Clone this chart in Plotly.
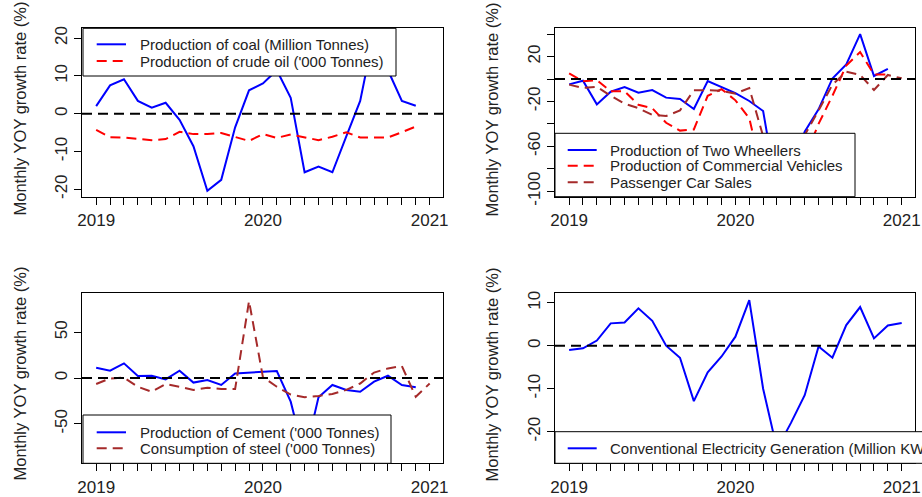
import plotly.graph_objects as go
import pandas as pd

# ---------------- data ----------------
months = pd.date_range("2019-01-01", periods=25, freq="MS")
t = [d.year + (d.month - 1) / 12 for d in months]
x_tick_labels = [str(d.year) if d.month == 1 else "" for d in months]

coal = [2.0, 7.5, 9.1, 3.4, 1.6, 2.9, -1.6, -8.6, -20.4, -17.5, -3.6, 6.2,
        8.0, 11.5, 4.2, -15.5, -14.0, -15.5, -6.0, 3.4, 21.5, 11.5, 3.4, 2.1]
crude_oil = [-4.3, -6.2, -6.3, -6.7, -7.0, -6.7, -4.8, -5.4, -5.4, -5.1, -6.1, -7.2,
             -5.4, -6.4, -5.5, -6.3, -7.0, -6.1, -4.9, -6.3, -6.3, -6.3, -4.9, -3.4]

two_wheelers = [-4.8, -1.5, -22.6, -11.3, -7.1, -12.2, -9.8, -16.6, -17.8, -26.7, -1.8, -6.8,
                -12.5, -19.6, -28.5, -100, -84, -47, -27, 0.5, 13, 40, 2.7, 9]
commercial_vehicles = [5, -2, -1, -11, -11, -23, -26, -39, -46, -45, -15, -9,
                       -19, -35, -88, -100, -95, -70, -40, -15, 12, 24, 4, 4]
passenger_cars = [-5, -8, -7, -15, -22, -26, -32, -33, -28, -10, -10, -10.5,
                  -13, -8, -51, -100, -86, -50, -28, -5, 6.5, 3.6, -9.8, 3.6, 0.6]

cement = [11.3, 8, 16, 2.2, 2.5, -1.5, 8, -5, -2.2, -7.6, 5, 5.8,
          6, 7.6, -25.8, -86, -21, -7.6, -13, -15, -4, 2.5, -7.6, -10]
steel = [-6.5, -0.5, 0.5, -9.5, -15, -6.5, -9.5, -13, -10.5, -12, -12, 84,
         1, -9.5, -18, -21, -19.5, -17.5, -13, -6, 6, 10.5, 13, -20.5, -6]

electricity = [-1.0, -0.6, 1.2, 5.2, 5.4, 8.7, 5.8, 0.0, -2.8, -12.9, -6.2, -2.5,
               2.1, 10.6, -10.0, -24, -18, -11.5, -0.2, -2.8, 4.8, 9.0, 1.7, 4.7, 5.3]

y1_ticks = [-20, -10, 0, 10, 20]
y1_labels = ["-20", "-10", "0", "10", "20"]
y2_ticks = [-100, -80, -60, -40, -20, 0, 20, 40]
y2_labels = ["-100", "", "-60", "", "-20", "", "20", ""]
y3_ticks = [-50, 0, 50]
y3_labels = ["-50", "0", "50"]
y4_ticks = [-20, -10, 0, 10]
y4_labels = ["-20", "-10", "0", "10"]

ylab = "Monthly YOY growth rate (%)"

# ---------------- styling helpers ----------------
W, H = 922, 497
FONT = "Liberation Sans, Arial, sans-serif"
BLUE, RED, BROWN = "#0000FF", "#FF0000", "#A52A2A"
DASH = "10px,6px"
TXT = "#222222"


def dx(a, b):
    return [a / W, b / W]


def dy(top, bottom):
    return [1 - bottom / H, 1 - top / H]


fig = go.Figure()
series = []  # (panel, name, color, dash)


def add(y, name, color, dash, n):
    s = "" if n == 1 else str(n)
    fig.add_trace(go.Scatter(
        x=t[:len(y)], y=y, name=name, mode="lines",
        line=dict(color=color, width=2, dash=dash),
        xaxis="x" + s, yaxis="y" + s, showlegend=False,
    ))
    series.append((n, name, color, dash))


add(coal, "Production of coal (Million Tonnes)", BLUE, "solid", 1)
add(crude_oil, "Production of crude oil ('000 Tonnes)", RED, DASH, 1)
add(two_wheelers, "Production of Two Wheellers", BLUE, "solid", 2)
add(commercial_vehicles, "Production of Commercial Vehicles", RED, DASH, 2)
add(passenger_cars, "Passenger Car Sales", BROWN, DASH, 2)
add(cement, "Production of Cement ('000 Tonnes)", BLUE, "solid", 3)
add(steel, "Consumption of steel ('000 Tonnes)", BROWN, DASH, 3)
add(electricity, "Conventional Electricity Generation (Million KWh)", BLUE, "solid", 4)

axis_common = dict(
    showline=True, linecolor="black", linewidth=1, mirror=True,
    ticks="outside", ticklen=7, tickwidth=1, tickcolor="black",
    showgrid=False, zeroline=False, automargin=False,
    tickfont=dict(family=FONT, size=17, color=TXT),
)
xr = [2018.915, 2021.08]

panels = [
    # n, x domain (px), y domain (px), y range, y ticks, y labels
    (1, (82, 443), (28.3, 196.7), [-21.96, 22.6], y1_ticks, y1_labels),
    (2, (555, 915), (28.3, 196.7), [-104.9, 45.2], y2_ticks, y2_labels),
    (3, (82, 443), (293.3, 463.3), [-93.1, 92.5], y3_ticks, y3_labels),
    (4, (555, 915), (293.3, 463.3), [-27.35, 12.19], y4_ticks, y4_labels),
]

# legend boxes in pixel coordinates: x0, x1, y0, y1, rows y, sample x0, x1, text x
legend_boxes = {
    1: (83, 396, 28.3, 76, [44.3, 61.0], 96.7, 126, 140),
    2: (555, 855, 133.3, 196.7, [150.0, 165.7, 182.3], 567.7, 596.7, 610),
    3: (83, 391, 415, 463.3, [432.3, 448.3], 96.7, 126, 139.5),
    4: (555, 960, 431.7, 463.3, [448.3], 567.7, 596.7, 610),
}

layout = dict(
    width=W, height=H, margin=dict(l=0, r=0, t=0, b=0),
    paper_bgcolor="white", plot_bgcolor="white",
    font=dict(family=FONT, size=16, color="black"),
    showlegend=False,
)
shapes, annotations = [], []

for n, (xa, xb), (ya, yb), yr, yt, yl in panels:
    s = "" if n == 1 else str(n)
    layout["xaxis" + s] = dict(
        axis_common, domain=dx(xa, xb), range=xr, anchor="y" + s,
        tickmode="array", tickvals=t, ticktext=x_tick_labels,
        tickangle=0, ticklabelstandoff=1,
    )
    layout["yaxis" + s] = dict(
        axis_common, domain=dy(ya, yb), range=yr, anchor="x" + s,
        tickmode="array", tickvals=yt, ticktext=yl, tickangle=-90,
        ticklabelstandoff=0,
    )
    # dashed reference line at zero
    shapes.append(dict(
        type="line", xref="x" + s + " domain", yref="y" + s,
        x0=0, x1=1, y0=0, y1=0, layer="above",
        line=dict(color="black", width=2, dash=DASH),
    ))
    # y axis title
    xc = 19.5 if n in (1, 3) else 491.5
    yc = 109 if n in (1, 2) else 374
    annotations.append(dict(
        text=ylab, textangle=-90, showarrow=False,
        xref="paper", yref="paper", x=xc / W, y=1 - yc / H,
        xanchor="center", yanchor="middle",
        font=dict(family=FONT, size=16.5, color=TXT),
    ))

# legends drawn as boxes over the plot (white fill hides lines beneath)
for n, (bx0, bx1, by0, by1, rows, sx0, sx1, tx) in legend_boxes.items():
    shapes.append(dict(
        type="rect", xref="paper", yref="paper",
        x0=bx0 / W, x1=bx1 / W, y0=1 - by1 / H, y1=1 - by0 / H,
        fillcolor="white", line=dict(color="black", width=1), layer="above",
    ))
    items = [sr for sr in series if sr[0] == n]
    for (pn, name, color, dash), ry in zip(items, rows):
        shapes.append(dict(
            type="line", xref="paper", yref="paper",
            x0=sx0 / W, x1=sx1 / W, y0=1 - ry / H, y1=1 - ry / H,
            line=dict(color=color, width=2, dash=dash), layer="above",
        ))
        annotations.append(dict(
            text=name, showarrow=False, xref="paper", yref="paper",
            x=tx / W, y=1 - ry / H, xanchor="left", yanchor="middle",
            borderpad=0, borderwidth=0,
            font=dict(family=FONT, size=15, color=TXT),
        ))

layout["shapes"] = shapes
layout["annotations"] = annotations
fig.update_layout(**layout)
# remove the browser's default 8px page margin so the figure fills the window
fig.write_html("out.html",
               config={"displayModeBar": False},
               post_script="document.body.style.margin='0px';")
